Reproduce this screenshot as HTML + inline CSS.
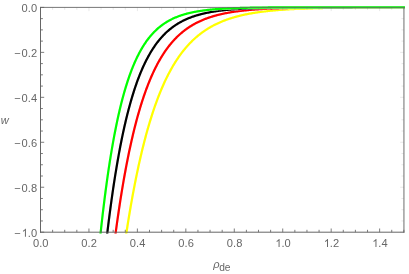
<!DOCTYPE html>
<html><head><meta charset="utf-8"><title>plot</title>
<style>html,body{margin:0;padding:0;background:#fff;overflow:hidden}body{width:409px;height:274px;font-family:"Liberation Sans",sans-serif}</style>
</head><body>
<svg width="409" height="274" viewBox="0 0 409 274" style="display:block;will-change:transform">
<rect width="409" height="274" fill="#fff"/>
<defs><clipPath id="c"><rect x="40.0" y="5.4" width="364.95000000000005" height="228.1"/></clipPath></defs>
<defs>
<path id="p7" d="M121.92 263.92L122.47 259.88L123.02 255.89L123.57 251.97L124.12 248.12L124.67 244.32L125.22 240.58L125.77 236.90L126.32 233.28L126.87 229.72L127.42 226.21L127.97 222.76L128.52 219.36L129.07 216.02L129.62 212.73L130.17 209.49L130.72 206.30L131.27 203.16L131.82 200.08L132.37 197.04L132.92 194.04L133.47 191.10L134.02 188.20L134.57 185.35L135.12 182.54L135.67 179.78L136.22 177.06L136.77 174.38L137.32 171.75L137.87 169.15L138.42 166.60L138.97 164.09L139.52 161.62L140.07 159.18L140.62 156.79L141.17 154.43L141.72 152.11L142.27 149.83L142.82 147.58L143.37 145.37L143.92 143.19L144.47 141.05L145.02 138.94L145.57 136.86L146.12 134.82L146.67 132.81L147.22 130.83L147.77 128.88L148.32 126.96L148.87 125.07L149.42 123.22L149.97 121.39L150.52 119.59L151.07 117.82L151.62 116.08L152.17 114.36L152.72 112.67L153.27 111.01L153.82 109.37L154.37 107.76L154.92 106.18L155.47 104.62L156.02 103.08L156.57 101.57L157.12 100.09L157.67 98.62L158.22 97.18L158.77 95.77L159.32 94.37L159.87 93.00L160.42 91.64L160.97 90.31L161.51 89.00L162.06 87.72L162.61 86.45L163.16 85.20L163.71 83.97L164.26 82.76L164.81 81.57L165.36 80.40L165.91 79.25L166.46 78.11L167.01 76.99L167.56 75.89L168.11 74.81L168.66 73.75L169.21 72.70L169.76 71.67L170.31 70.65L170.86 69.65L171.41 68.67L171.96 67.70L172.51 66.75L173.06 65.81L173.61 64.89L174.16 63.98L174.71 63.08L175.26 62.20L175.81 61.34L176.36 60.48L176.91 59.64L177.46 58.82L178.01 58.01L178.56 57.21L179.11 56.42L179.66 55.64L180.21 54.88L180.76 54.13L181.31 53.39L181.86 52.66L182.41 51.95L182.96 51.24L183.51 50.55L184.06 49.87L184.61 49.19L185.16 48.53L185.71 47.88L186.26 47.24L186.81 46.61L187.36 45.99L187.91 45.38L188.46 44.78L189.01 44.19L189.56 43.61L190.11 43.03L190.66 42.47L191.21 41.91L191.76 41.37L192.31 40.83L192.86 40.30L193.41 39.78L193.96 39.27L194.51 38.76L195.06 38.26L195.61 37.77L196.16 37.29L196.71 36.82L197.26 36.35L197.81 35.90L198.36 35.44L198.91 35.00L199.46 34.56L200.01 34.13L200.56 33.71L201.11 33.29L201.66 32.88L202.21 32.48L202.76 32.08L203.31 31.69L203.85 31.30L204.40 30.92L204.95 30.55L205.50 30.18L206.05 29.82L206.60 29.46L207.15 29.11L207.70 28.77L208.25 28.43L208.80 28.10L209.35 27.77L209.90 27.44L210.45 27.13L211.00 26.81L211.55 26.50L212.10 26.20L212.65 25.90L213.20 25.61L213.75 25.32L214.30 25.03L214.85 24.75L215.40 24.48L215.95 24.21L216.50 23.94L217.05 23.68L217.60 23.42L218.15 23.16L218.70 22.91L219.25 22.66L219.80 22.42L220.35 22.18L220.90 21.95L221.45 21.71L222.00 21.49L222.55 21.26L223.10 21.04L223.65 20.82L224.20 20.61L224.75 20.40L225.30 20.19L225.85 19.99L226.40 19.79L226.95 19.59L227.50 19.40L228.05 19.20L228.60 19.02L229.15 18.83L229.70 18.65L230.25 18.47L230.80 18.29L231.35 18.12L231.90 17.95L232.45 17.78L233.00 17.61L233.55 17.45L234.10 17.29L234.65 17.13L235.20 16.97L235.75 16.82L236.30 16.67L236.85 16.52L237.40 16.37L237.95 16.23L238.50 16.09L239.05 15.95L239.60 15.81L240.15 15.68L240.70 15.54L241.25 15.41L241.80 15.28L242.35 15.16L242.90 15.03L243.45 14.91L244.00 14.79L244.55 14.67L245.10 14.55L245.64 14.44L246.19 14.33L246.74 14.21L247.29 14.10L247.84 14.00L248.39 13.89L248.94 13.79L249.49 13.68L250.04 13.58L250.59 13.48L251.14 13.38L251.69 13.29L252.24 13.19L252.79 13.10L253.34 13.01L253.89 12.91L254.44 12.83L254.99 12.74L255.54 12.65L256.09 12.57L256.64 12.48L257.19 12.40L257.74 12.32L258.29 12.24L258.84 12.16L259.39 12.08L259.94 12.01L260.49 11.93L261.04 11.86L261.59 11.78L262.14 11.71L262.69 11.64L263.24 11.57L263.79 11.51L264.34 11.44L264.89 11.37L265.44 11.31L265.99 11.24L266.54 11.18L267.09 11.12L267.64 11.06L268.19 11.00L268.74 10.94L269.29 10.88L269.84 10.82L270.39 10.77L270.94 10.71L271.49 10.66L272.04 10.60L272.59 10.55L273.14 10.50L273.69 10.45L274.24 10.40L274.79 10.35L275.34 10.30L275.89 10.25L276.44 10.20L276.99 10.16L277.54 10.11L278.09 10.07L278.64 10.02L279.19 9.98L279.74 9.93L280.29 9.89L280.84 9.85L281.39 9.81L281.94 9.77L282.49 9.73L283.04 9.69L283.59 9.65L284.14 9.61L284.69 9.58L285.24 9.54L285.79 9.50L286.34 9.47L286.89 9.43L287.44 9.40L287.98 9.36L288.53 9.33L289.08 9.30L289.63 9.27L290.18 9.23L290.73 9.20L291.28 9.17L291.83 9.14L292.38 9.11L292.93 9.08L293.48 9.05L294.03 9.03L294.58 9.00L295.13 8.97L295.68 8.94L296.23 8.92L296.78 8.89L297.33 8.86L297.88 8.84L298.43 8.81L298.98 8.79L299.53 8.76L300.08 8.74L300.63 8.72L301.18 8.69L301.73 8.67L302.28 8.65L302.83 8.63L303.38 8.61L303.93 8.58L304.48 8.56L305.03 8.54L305.58 8.52L306.13 8.50L306.68 8.48L307.23 8.46L307.78 8.44L308.33 8.42L308.88 8.41L309.43 8.39L309.98 8.37L310.53 8.35L311.08 8.34L311.63 8.32L312.18 8.30L312.73 8.28L313.28 8.27L313.83 8.25L314.38 8.24L314.93 8.22L315.48 8.21L316.03 8.19L316.58 8.18L317.13 8.16L317.68 8.15L318.23 8.13L318.78 8.12L319.33 8.10L319.88 8.09L320.43 8.08L320.98 8.07L321.53 8.05L322.08 8.04L322.63 8.03L323.18 8.01L323.73 8.00L324.28 7.99L324.83 7.98L325.38 7.97L325.93 7.96L326.48 7.95L327.03 7.93L327.58 7.92L328.13 7.91L328.68 7.90L329.23 7.89L329.78 7.88L330.32 7.87L330.87 7.86L331.42 7.85L331.97 7.84L332.52 7.83L333.07 7.82L333.62 7.82L334.17 7.81L334.72 7.80L335.27 7.79L335.82 7.78L336.37 7.77L336.92 7.76L337.47 7.76L338.02 7.75L338.57 7.74L339.12 7.73L339.67 7.72L340.22 7.72L340.77 7.71L341.32 7.70L341.87 7.70L342.42 7.69L342.97 7.68L343.52 7.67L344.07 7.67L344.62 7.66L345.17 7.66L345.72 7.65L346.27 7.64L346.82 7.64L347.37 7.63L347.92 7.62L348.47 7.62L349.02 7.61L349.57 7.61L350.12 7.60L350.67 7.60L351.22 7.59L351.77 7.58L352.32 7.58L352.87 7.57L353.42 7.57L353.97 7.56L354.52 7.56L355.07 7.55L355.62 7.55L356.17 7.54L356.72 7.54L357.27 7.54L357.82 7.53L358.37 7.53L358.92 7.52L359.47 7.52L360.02 7.51L360.57 7.51L361.12 7.51L361.67 7.50L362.22 7.50L362.77 7.49L363.32 7.49L363.87 7.49L364.42 7.48L364.97 7.48L365.52 7.48L366.07 7.47L366.62 7.47L367.17 7.46L367.72 7.46L368.27 7.46L368.82 7.45L369.37 7.45L369.92 7.45L370.47 7.45L371.02 7.44L371.57 7.44L372.12 7.44L372.66 7.43L373.21 7.43L373.76 7.43L374.31 7.42L374.86 7.42L375.41 7.42L375.96 7.42L376.51 7.41L377.06 7.41L377.61 7.41L378.16 7.41L378.71 7.40L379.26 7.40L379.81 7.40L380.36 7.40L380.91 7.39L381.46 7.39L382.01 7.39L382.56 7.39L383.11 7.39L383.66 7.38L384.21 7.38L384.76 7.38L385.31 7.38L385.86 7.38L386.41 7.37L386.96 7.37L387.51 7.37L388.06 7.37L388.61 7.37L389.16 7.36L389.71 7.36L390.26 7.36L390.81 7.36L391.36 7.36L391.91 7.35L392.46 7.35L393.01 7.35L393.56 7.35L394.11 7.35L394.66 7.35L395.21 7.35L395.76 7.34L396.31 7.34L396.86 7.34L397.41 7.34L397.96 7.34L398.51 7.34L399.06 7.34L399.61 7.33L400.16 7.33L400.71 7.33L401.26 7.33L401.81 7.33L402.36 7.33L402.91 7.33L403.46 7.33L404.01 7.32L404.56 7.32L405.11 7.32L405.66 7.32L406.21 7.32L406.76 7.32"/>
<path id="p8" d="M112.03 261.56L112.58 256.98L113.13 252.49L113.68 248.07L114.23 243.74L114.78 239.48L115.33 235.30L115.88 231.20L116.43 227.17L116.98 223.21L117.53 219.33L118.08 215.51L118.63 211.76L119.17 208.08L119.72 204.47L120.27 200.92L120.82 197.43L121.37 194.01L121.92 190.65L122.47 187.35L123.02 184.11L123.57 180.92L124.12 177.80L124.67 174.73L125.22 171.72L125.77 168.76L126.32 165.85L126.87 163.00L127.42 160.19L127.97 157.44L128.52 154.74L129.07 152.08L129.62 149.48L130.17 146.92L130.72 144.40L131.27 141.94L131.82 139.51L132.37 137.13L132.92 134.79L133.47 132.50L134.02 130.25L134.57 128.03L135.12 125.86L135.67 123.72L136.22 121.63L136.77 119.57L137.32 117.55L137.87 115.56L138.42 113.61L138.97 111.70L139.52 109.82L140.07 107.97L140.62 106.16L141.17 104.38L141.72 102.63L142.27 100.92L142.82 99.23L143.37 97.58L143.92 95.95L144.47 94.35L145.02 92.79L145.57 91.25L146.12 89.74L146.67 88.25L147.22 86.79L147.77 85.36L148.32 83.96L148.87 82.58L149.42 81.22L149.97 79.89L150.52 78.58L151.07 77.30L151.62 76.04L152.17 74.80L152.72 73.58L153.27 72.39L153.82 71.22L154.37 70.07L154.92 68.94L155.47 67.83L156.02 66.74L156.57 65.67L157.12 64.61L157.67 63.58L158.22 62.57L158.77 61.57L159.32 60.60L159.87 59.64L160.42 58.69L160.97 57.77L161.51 56.86L162.06 55.96L162.61 55.09L163.16 54.23L163.71 53.38L164.26 52.55L164.81 51.74L165.36 50.94L165.91 50.15L166.46 49.38L167.01 48.62L167.56 47.88L168.11 47.14L168.66 46.43L169.21 45.72L169.76 45.03L170.31 44.35L170.86 43.68L171.41 43.03L171.96 42.38L172.51 41.75L173.06 41.13L173.61 40.52L174.16 39.92L174.71 39.33L175.26 38.75L175.81 38.19L176.36 37.63L176.91 37.08L177.46 36.55L178.01 36.02L178.56 35.50L179.11 34.99L179.66 34.49L180.21 34.00L180.76 33.52L181.31 33.05L181.86 32.59L182.41 32.13L182.96 31.68L183.51 31.24L184.06 30.81L184.61 30.39L185.16 29.97L185.71 29.56L186.26 29.16L186.81 28.77L187.36 28.38L187.91 28.00L188.46 27.62L189.01 27.26L189.56 26.90L190.11 26.54L190.66 26.20L191.21 25.86L191.76 25.52L192.31 25.19L192.86 24.87L193.41 24.55L193.96 24.24L194.51 23.94L195.06 23.64L195.61 23.34L196.16 23.05L196.71 22.77L197.26 22.49L197.81 22.21L198.36 21.94L198.91 21.68L199.46 21.42L200.01 21.16L200.56 20.91L201.11 20.67L201.66 20.43L202.21 20.19L202.76 19.96L203.31 19.73L203.85 19.50L204.40 19.28L204.95 19.07L205.50 18.85L206.05 18.65L206.60 18.44L207.15 18.24L207.70 18.04L208.25 17.85L208.80 17.66L209.35 17.47L209.90 17.28L210.45 17.10L211.00 16.93L211.55 16.75L212.10 16.58L212.65 16.41L213.20 16.25L213.75 16.09L214.30 15.93L214.85 15.77L215.40 15.62L215.95 15.47L216.50 15.32L217.05 15.17L217.60 15.03L218.15 14.89L218.70 14.75L219.25 14.62L219.80 14.49L220.35 14.36L220.90 14.23L221.45 14.10L222.00 13.98L222.55 13.86L223.10 13.74L223.65 13.62L224.20 13.51L224.75 13.40L225.30 13.29L225.85 13.18L226.40 13.07L226.95 12.97L227.50 12.86L228.05 12.76L228.60 12.66L229.15 12.56L229.70 12.47L230.25 12.38L230.80 12.28L231.35 12.19L231.90 12.10L232.45 12.02L233.00 11.93L233.55 11.85L234.10 11.76L234.65 11.68L235.20 11.60L235.75 11.52L236.30 11.45L236.85 11.37L237.40 11.30L237.95 11.22L238.50 11.15L239.05 11.08L239.60 11.01L240.15 10.95L240.70 10.88L241.25 10.81L241.80 10.75L242.35 10.69L242.90 10.63L243.45 10.56L244.00 10.50L244.55 10.45L245.10 10.39L245.64 10.33L246.19 10.28L246.74 10.22L247.29 10.17L247.84 10.12L248.39 10.06L248.94 10.01L249.49 9.96L250.04 9.92L250.59 9.87L251.14 9.82L251.69 9.77L252.24 9.73L252.79 9.68L253.34 9.64L253.89 9.60L254.44 9.56L254.99 9.51L255.54 9.47L256.09 9.43L256.64 9.39L257.19 9.35L257.74 9.32L258.29 9.28L258.84 9.24L259.39 9.21L259.94 9.17L260.49 9.14L261.04 9.10L261.59 9.07L262.14 9.04L262.69 9.01L263.24 8.97L263.79 8.94L264.34 8.91L264.89 8.88L265.44 8.85L265.99 8.82L266.54 8.80L267.09 8.77L267.64 8.74L268.19 8.71L268.74 8.69L269.29 8.66L269.84 8.64L270.39 8.61L270.94 8.59L271.49 8.56L272.04 8.54L272.59 8.52L273.14 8.49L273.69 8.47L274.24 8.45L274.79 8.43L275.34 8.41L275.89 8.39L276.44 8.36L276.99 8.34L277.54 8.33L278.09 8.31L278.64 8.29L279.19 8.27L279.74 8.25L280.29 8.23L280.84 8.21L281.39 8.20L281.94 8.18L282.49 8.16L283.04 8.15L283.59 8.13L284.14 8.11L284.69 8.10L285.24 8.08L285.79 8.07L286.34 8.05L286.89 8.04L287.44 8.03L287.98 8.01L288.53 8.00L289.08 7.98L289.63 7.97L290.18 7.96L290.73 7.95L291.28 7.93L291.83 7.92L292.38 7.91L292.93 7.90L293.48 7.88L294.03 7.87L294.58 7.86L295.13 7.85L295.68 7.84L296.23 7.83L296.78 7.82L297.33 7.81L297.88 7.80L298.43 7.79L298.98 7.78L299.53 7.77L300.08 7.76L300.63 7.75L301.18 7.74L301.73 7.73L302.28 7.72L302.83 7.72L303.38 7.71L303.93 7.70L304.48 7.69L305.03 7.68L305.58 7.68L306.13 7.67L306.68 7.66L307.23 7.65L307.78 7.65L308.33 7.64L308.88 7.63L309.43 7.62L309.98 7.62L310.53 7.61L311.08 7.61L311.63 7.60L312.18 7.59L312.73 7.59L313.28 7.58L313.83 7.57L314.38 7.57L314.93 7.56L315.48 7.56L316.03 7.55L316.58 7.55L317.13 7.54L317.68 7.54L318.23 7.53L318.78 7.53L319.33 7.52L319.88 7.52L320.43 7.51L320.98 7.51L321.53 7.50L322.08 7.50L322.63 7.49L323.18 7.49L323.73 7.48L324.28 7.48L324.83 7.48L325.38 7.47L325.93 7.47L326.48 7.46L327.03 7.46L327.58 7.46L328.13 7.45L328.68 7.45L329.23 7.45L329.78 7.44L330.32 7.44L330.87 7.43L331.42 7.43L331.97 7.43L332.52 7.42L333.07 7.42L333.62 7.42L334.17 7.42L334.72 7.41L335.27 7.41L335.82 7.41L336.37 7.40L336.92 7.40L337.47 7.40L338.02 7.40L338.57 7.39L339.12 7.39L339.67 7.39L340.22 7.39L340.77 7.38L341.32 7.38L341.87 7.38L342.42 7.38L342.97 7.37L343.52 7.37L344.07 7.37L344.62 7.37L345.17 7.37L345.72 7.36L346.27 7.36L346.82 7.36L347.37 7.36L347.92 7.36L348.47 7.35L349.02 7.35L349.57 7.35L350.12 7.35L350.67 7.35L351.22 7.34L351.77 7.34L352.32 7.34L352.87 7.34L353.42 7.34L353.97 7.34L354.52 7.33L355.07 7.33L355.62 7.33L356.17 7.33L356.72 7.33L357.27 7.33L357.82 7.33L358.37 7.32L358.92 7.32L359.47 7.32L360.02 7.32L360.57 7.32L361.12 7.32L361.67 7.32L362.22 7.32L362.77 7.31L363.32 7.31L363.87 7.31L364.42 7.31L364.97 7.31L365.52 7.31L366.07 7.31L366.62 7.31L367.17 7.31L367.72 7.30L368.27 7.30L368.82 7.30L369.37 7.30L369.92 7.30L370.47 7.30L371.02 7.30L371.57 7.30L372.12 7.30L372.66 7.30L373.21 7.30L373.76 7.29L374.31 7.29L374.86 7.29L375.41 7.29L375.96 7.29L376.51 7.29L377.06 7.29L377.61 7.29L378.16 7.29L378.71 7.29L379.26 7.29L379.81 7.29L380.36 7.29L380.91 7.29L381.46 7.28L382.01 7.28L382.56 7.28L383.11 7.28L383.66 7.28L384.21 7.28L384.76 7.28L385.31 7.28L385.86 7.28L386.41 7.28L386.96 7.28L387.51 7.28L388.06 7.28L388.61 7.28L389.16 7.28L389.71 7.28L390.26 7.28L390.81 7.28L391.36 7.28L391.91 7.27L392.46 7.27L393.01 7.27L393.56 7.27L394.11 7.27L394.66 7.27L395.21 7.27L395.76 7.27L396.31 7.27L396.86 7.27L397.41 7.27L397.96 7.27L398.51 7.27L399.06 7.27L399.61 7.27L400.16 7.27L400.71 7.27L401.26 7.27L401.81 7.27L402.36 7.27L402.91 7.27L403.46 7.27L404.01 7.27L404.56 7.27L405.11 7.27L405.66 7.27L406.21 7.27L406.76 7.27"/>
<path id="p9" d="M103.78 264.41L104.33 259.21L104.88 254.12L105.43 249.13L105.98 244.23L106.53 239.44L107.08 234.75L107.63 230.15L108.18 225.64L108.73 221.22L109.28 216.89L109.83 212.66L110.38 208.50L110.93 204.43L111.48 200.44L112.03 196.54L112.58 192.71L113.13 188.96L113.68 185.28L114.23 181.68L114.78 178.16L115.33 174.70L115.88 171.31L116.43 168.00L116.98 164.75L117.53 161.56L118.08 158.44L118.63 155.38L119.17 152.39L119.72 149.45L120.27 146.58L120.82 143.76L121.37 141.00L121.92 138.29L122.47 135.64L123.02 133.05L123.57 130.50L124.12 128.01L124.67 125.57L125.22 123.18L125.77 120.83L126.32 118.53L126.87 116.28L127.42 114.08L127.97 111.92L128.52 109.80L129.07 107.73L129.62 105.70L130.17 103.70L130.72 101.75L131.27 99.84L131.82 97.97L132.37 96.14L132.92 94.34L133.47 92.58L134.02 90.85L134.57 89.16L135.12 87.50L135.67 85.88L136.22 84.29L136.77 82.73L137.32 81.21L137.87 79.71L138.42 78.25L138.97 76.81L139.52 75.40L140.07 74.03L140.62 72.68L141.17 71.35L141.72 70.06L142.27 68.79L142.82 67.54L143.37 66.32L143.92 65.13L144.47 63.96L145.02 62.81L145.57 61.69L146.12 60.59L146.67 59.51L147.22 58.45L147.77 57.41L148.32 56.40L148.87 55.41L149.42 54.43L149.97 53.48L150.52 52.54L151.07 51.63L151.62 50.73L152.17 49.85L152.72 48.99L153.27 48.15L153.82 47.32L154.37 46.51L154.92 45.71L155.47 44.94L156.02 44.17L156.57 43.43L157.12 42.70L157.67 41.98L158.22 41.28L158.77 40.59L159.32 39.91L159.87 39.25L160.42 38.61L160.97 37.97L161.51 37.35L162.06 36.74L162.61 36.15L163.16 35.56L163.71 34.99L164.26 34.43L164.81 33.88L165.36 33.34L165.91 32.81L166.46 32.30L167.01 31.79L167.56 31.29L168.11 30.81L168.66 30.33L169.21 29.86L169.76 29.41L170.31 28.96L170.86 28.52L171.41 28.09L171.96 27.67L172.51 27.25L173.06 26.85L173.61 26.45L174.16 26.07L174.71 25.68L175.26 25.31L175.81 24.95L176.36 24.59L176.91 24.24L177.46 23.89L178.01 23.56L178.56 23.23L179.11 22.91L179.66 22.59L180.21 22.28L180.76 21.97L181.31 21.68L181.86 21.39L182.41 21.10L182.96 20.82L183.51 20.54L184.06 20.28L184.61 20.01L185.16 19.75L185.71 19.50L186.26 19.25L186.81 19.01L187.36 18.77L187.91 18.54L188.46 18.31L189.01 18.09L189.56 17.87L190.11 17.65L190.66 17.44L191.21 17.24L191.76 17.04L192.31 16.84L192.86 16.64L193.41 16.45L193.96 16.27L194.51 16.09L195.06 15.91L195.61 15.73L196.16 15.56L196.71 15.39L197.26 15.23L197.81 15.07L198.36 14.91L198.91 14.75L199.46 14.60L200.01 14.45L200.56 14.31L201.11 14.16L201.66 14.02L202.21 13.89L202.76 13.75L203.31 13.62L203.85 13.49L204.40 13.37L204.95 13.24L205.50 13.12L206.05 13.00L206.60 12.89L207.15 12.77L207.70 12.66L208.25 12.55L208.80 12.44L209.35 12.34L209.90 12.24L210.45 12.14L211.00 12.04L211.55 11.94L212.10 11.85L212.65 11.75L213.20 11.66L213.75 11.57L214.30 11.48L214.85 11.40L215.40 11.32L215.95 11.23L216.50 11.15L217.05 11.07L217.60 11.00L218.15 10.92L218.70 10.85L219.25 10.77L219.80 10.70L220.35 10.63L220.90 10.56L221.45 10.50L222.00 10.43L222.55 10.37L223.10 10.30L223.65 10.24L224.20 10.18L224.75 10.12L225.30 10.06L225.85 10.01L226.40 9.95L226.95 9.90L227.50 9.84L228.05 9.79L228.60 9.74L229.15 9.69L229.70 9.64L230.25 9.59L230.80 9.54L231.35 9.50L231.90 9.45L232.45 9.41L233.00 9.36L233.55 9.32L234.10 9.28L234.65 9.24L235.20 9.20L235.75 9.16L236.30 9.12L236.85 9.08L237.40 9.05L237.95 9.01L238.50 8.97L239.05 8.94L239.60 8.90L240.15 8.87L240.70 8.84L241.25 8.81L241.80 8.77L242.35 8.74L242.90 8.71L243.45 8.68L244.00 8.66L244.55 8.63L245.10 8.60L245.64 8.57L246.19 8.54L246.74 8.52L247.29 8.49L247.84 8.47L248.39 8.44L248.94 8.42L249.49 8.40L250.04 8.37L250.59 8.35L251.14 8.33L251.69 8.31L252.24 8.28L252.79 8.26L253.34 8.24L253.89 8.22L254.44 8.20L254.99 8.18L255.54 8.16L256.09 8.15L256.64 8.13L257.19 8.11L257.74 8.09L258.29 8.08L258.84 8.06L259.39 8.04L259.94 8.03L260.49 8.01L261.04 8.00L261.59 7.98L262.14 7.97L262.69 7.95L263.24 7.94L263.79 7.92L264.34 7.91L264.89 7.90L265.44 7.88L265.99 7.87L266.54 7.86L267.09 7.85L267.64 7.83L268.19 7.82L268.74 7.81L269.29 7.80L269.84 7.79L270.39 7.78L270.94 7.77L271.49 7.76L272.04 7.75L272.59 7.74L273.14 7.73L273.69 7.72L274.24 7.71L274.79 7.70L275.34 7.69L275.89 7.68L276.44 7.67L276.99 7.66L277.54 7.65L278.09 7.65L278.64 7.64L279.19 7.63L279.74 7.62L280.29 7.61L280.84 7.61L281.39 7.60L281.94 7.59L282.49 7.59L283.04 7.58L283.59 7.57L284.14 7.57L284.69 7.56L285.24 7.55L285.79 7.55L286.34 7.54L286.89 7.54L287.44 7.53L287.98 7.52L288.53 7.52L289.08 7.51L289.63 7.51L290.18 7.50L290.73 7.50L291.28 7.49L291.83 7.49L292.38 7.48L292.93 7.48L293.48 7.47L294.03 7.47L294.58 7.46L295.13 7.46L295.68 7.46L296.23 7.45L296.78 7.45L297.33 7.44L297.88 7.44L298.43 7.44L298.98 7.43L299.53 7.43L300.08 7.42L300.63 7.42L301.18 7.42L301.73 7.41L302.28 7.41L302.83 7.41L303.38 7.40L303.93 7.40L304.48 7.40L305.03 7.40L305.58 7.39L306.13 7.39L306.68 7.39L307.23 7.38L307.78 7.38L308.33 7.38L308.88 7.38L309.43 7.37L309.98 7.37L310.53 7.37L311.08 7.37L311.63 7.36L312.18 7.36L312.73 7.36L313.28 7.36L313.83 7.35L314.38 7.35L314.93 7.35L315.48 7.35L316.03 7.35L316.58 7.34L317.13 7.34L317.68 7.34L318.23 7.34L318.78 7.34L319.33 7.34L319.88 7.33L320.43 7.33L320.98 7.33L321.53 7.33L322.08 7.33L322.63 7.33L323.18 7.32L323.73 7.32L324.28 7.32L324.83 7.32L325.38 7.32L325.93 7.32L326.48 7.32L327.03 7.31L327.58 7.31L328.13 7.31L328.68 7.31L329.23 7.31L329.78 7.31L330.32 7.31L330.87 7.31L331.42 7.30L331.97 7.30L332.52 7.30L333.07 7.30L333.62 7.30L334.17 7.30L334.72 7.30L335.27 7.30L335.82 7.30L336.37 7.30L336.92 7.29L337.47 7.29L338.02 7.29L338.57 7.29L339.12 7.29L339.67 7.29L340.22 7.29L340.77 7.29L341.32 7.29L341.87 7.29L342.42 7.29L342.97 7.29L343.52 7.28L344.07 7.28L344.62 7.28L345.17 7.28L345.72 7.28L346.27 7.28L346.82 7.28L347.37 7.28L347.92 7.28L348.47 7.28L349.02 7.28L349.57 7.28L350.12 7.28L350.67 7.28L351.22 7.28L351.77 7.28L352.32 7.28L352.87 7.27L353.42 7.27L353.97 7.27L354.52 7.27L355.07 7.27L355.62 7.27L356.17 7.27L356.72 7.27L357.27 7.27L357.82 7.27L358.37 7.27L358.92 7.27L359.47 7.27L360.02 7.27L360.57 7.27L361.12 7.27L361.67 7.27L362.22 7.27L362.77 7.27L363.32 7.27L363.87 7.27L364.42 7.27L364.97 7.27L365.52 7.27L366.07 7.27L366.62 7.26L367.17 7.26L367.72 7.26L368.27 7.26L368.82 7.26L369.37 7.26L369.92 7.26L370.47 7.26L371.02 7.26L371.57 7.26L372.12 7.26L372.66 7.26L373.21 7.26L373.76 7.26L374.31 7.26L374.86 7.26L375.41 7.26L375.96 7.26L376.51 7.26L377.06 7.26L377.61 7.26L378.16 7.26L378.71 7.26L379.26 7.26L379.81 7.26L380.36 7.26L380.91 7.26L381.46 7.26L382.01 7.26L382.56 7.26L383.11 7.26L383.66 7.26L384.21 7.26L384.76 7.26L385.31 7.26L385.86 7.26L386.41 7.26L386.96 7.26L387.51 7.26L388.06 7.26L388.61 7.26L389.16 7.26L389.71 7.26L390.26 7.26L390.81 7.26L391.36 7.26L391.91 7.26L392.46 7.26L393.01 7.26L393.56 7.26L394.11 7.26L394.66 7.26L395.21 7.26L395.76 7.25L396.31 7.25L396.86 7.25L397.41 7.25L397.96 7.25L398.51 7.25L399.06 7.25L399.61 7.25L400.16 7.25L400.71 7.25L401.26 7.25L401.81 7.25L402.36 7.25L402.91 7.25L403.46 7.25L404.01 7.25L404.56 7.25L405.11 7.25L405.66 7.25L406.21 7.25L406.76 7.25"/>
<path id="p10" d="M97.73 261.47L98.28 255.76L98.83 250.18L99.38 244.73L99.93 239.40L100.48 234.19L101.03 229.10L101.58 224.12L102.13 219.25L102.68 214.49L103.23 209.84L103.78 205.29L104.33 200.85L104.88 196.50L105.43 192.26L105.98 188.10L106.53 184.04L107.08 180.08L107.63 176.20L108.18 172.41L108.73 168.70L109.28 165.07L109.83 161.53L110.38 158.07L110.93 154.68L111.48 151.38L112.03 148.14L112.58 144.98L113.13 141.89L113.68 138.87L114.23 135.91L114.78 133.02L115.33 130.20L115.88 127.44L116.43 124.74L116.98 122.11L117.53 119.53L118.08 117.01L118.63 114.55L119.17 112.14L119.72 109.78L120.27 107.48L120.82 105.23L121.37 103.03L121.92 100.88L122.47 98.78L123.02 96.73L123.57 94.72L124.12 92.76L124.67 90.84L125.22 88.96L125.77 87.13L126.32 85.33L126.87 83.58L127.42 81.87L127.97 80.19L128.52 78.56L129.07 76.96L129.62 75.39L130.17 73.86L130.72 72.37L131.27 70.91L131.82 69.48L132.37 68.08L132.92 66.71L133.47 65.38L134.02 64.08L134.57 62.80L135.12 61.55L135.67 60.33L136.22 59.14L136.77 57.98L137.32 56.84L137.87 55.73L138.42 54.64L138.97 53.58L139.52 52.54L140.07 51.52L140.62 50.53L141.17 49.55L141.72 48.60L142.27 47.68L142.82 46.77L143.37 45.88L143.92 45.02L144.47 44.17L145.02 43.34L145.57 42.53L146.12 41.74L146.67 40.96L147.22 40.21L147.77 39.47L148.32 38.74L148.87 38.04L149.42 37.35L149.97 36.67L150.52 36.01L151.07 35.36L151.62 34.73L152.17 34.12L152.72 33.51L153.27 32.92L153.82 32.35L154.37 31.78L154.92 31.23L155.47 30.70L156.02 30.17L156.57 29.66L157.12 29.15L157.67 28.66L158.22 28.18L158.77 27.71L159.32 27.25L159.87 26.80L160.42 26.36L160.97 25.93L161.51 25.51L162.06 25.11L162.61 24.70L163.16 24.31L163.71 23.93L164.26 23.56L164.81 23.19L165.36 22.83L165.91 22.48L166.46 22.14L167.01 21.81L167.56 21.48L168.11 21.16L168.66 20.85L169.21 20.54L169.76 20.24L170.31 19.95L170.86 19.67L171.41 19.39L171.96 19.12L172.51 18.85L173.06 18.59L173.61 18.33L174.16 18.09L174.71 17.84L175.26 17.61L175.81 17.37L176.36 17.15L176.91 16.92L177.46 16.71L178.01 16.49L178.56 16.29L179.11 16.08L179.66 15.89L180.21 15.69L180.76 15.50L181.31 15.32L181.86 15.14L182.41 14.96L182.96 14.79L183.51 14.62L184.06 14.45L184.61 14.29L185.16 14.13L185.71 13.98L186.26 13.83L186.81 13.68L187.36 13.53L187.91 13.39L188.46 13.26L189.01 13.12L189.56 12.99L190.11 12.86L190.66 12.73L191.21 12.61L191.76 12.49L192.31 12.37L192.86 12.26L193.41 12.15L193.96 12.04L194.51 11.93L195.06 11.82L195.61 11.72L196.16 11.62L196.71 11.52L197.26 11.43L197.81 11.33L198.36 11.24L198.91 11.15L199.46 11.06L200.01 10.98L200.56 10.89L201.11 10.81L201.66 10.73L202.21 10.65L202.76 10.58L203.31 10.50L203.85 10.43L204.40 10.36L204.95 10.29L205.50 10.22L206.05 10.15L206.60 10.09L207.15 10.03L207.70 9.96L208.25 9.90L208.80 9.84L209.35 9.78L209.90 9.73L210.45 9.67L211.00 9.62L211.55 9.56L212.10 9.51L212.65 9.46L213.20 9.41L213.75 9.36L214.30 9.32L214.85 9.27L215.40 9.22L215.95 9.18L216.50 9.14L217.05 9.09L217.60 9.05L218.15 9.01L218.70 8.97L219.25 8.93L219.80 8.90L220.35 8.86L220.90 8.82L221.45 8.79L222.00 8.75L222.55 8.72L223.10 8.69L223.65 8.65L224.20 8.62L224.75 8.59L225.30 8.56L225.85 8.53L226.40 8.50L226.95 8.48L227.50 8.45L228.05 8.42L228.60 8.40L229.15 8.37L229.70 8.34L230.25 8.32L230.80 8.30L231.35 8.27L231.90 8.25L232.45 8.23L233.00 8.21L233.55 8.18L234.10 8.16L234.65 8.14L235.20 8.12L235.75 8.10L236.30 8.08L236.85 8.06L237.40 8.05L237.95 8.03L238.50 8.01L239.05 7.99L239.60 7.98L240.15 7.96L240.70 7.95L241.25 7.93L241.80 7.91L242.35 7.90L242.90 7.88L243.45 7.87L244.00 7.86L244.55 7.84L245.10 7.83L245.64 7.82L246.19 7.80L246.74 7.79L247.29 7.78L247.84 7.77L248.39 7.76L248.94 7.74L249.49 7.73L250.04 7.72L250.59 7.71L251.14 7.70L251.69 7.69L252.24 7.68L252.79 7.67L253.34 7.66L253.89 7.65L254.44 7.64L254.99 7.64L255.54 7.63L256.09 7.62L256.64 7.61L257.19 7.60L257.74 7.59L258.29 7.59L258.84 7.58L259.39 7.57L259.94 7.56L260.49 7.56L261.04 7.55L261.59 7.54L262.14 7.54L262.69 7.53L263.24 7.52L263.79 7.52L264.34 7.51L264.89 7.51L265.44 7.50L265.99 7.49L266.54 7.49L267.09 7.48L267.64 7.48L268.19 7.47L268.74 7.47L269.29 7.46L269.84 7.46L270.39 7.45L270.94 7.45L271.49 7.44L272.04 7.44L272.59 7.44L273.14 7.43L273.69 7.43L274.24 7.42L274.79 7.42L275.34 7.42L275.89 7.41L276.44 7.41L276.99 7.41L277.54 7.40L278.09 7.40L278.64 7.40L279.19 7.39L279.74 7.39L280.29 7.39L280.84 7.38L281.39 7.38L281.94 7.38L282.49 7.37L283.04 7.37L283.59 7.37L284.14 7.37L284.69 7.36L285.24 7.36L285.79 7.36L286.34 7.36L286.89 7.35L287.44 7.35L287.98 7.35L288.53 7.35L289.08 7.34L289.63 7.34L290.18 7.34L290.73 7.34L291.28 7.34L291.83 7.33L292.38 7.33L292.93 7.33L293.48 7.33L294.03 7.33L294.58 7.33L295.13 7.32L295.68 7.32L296.23 7.32L296.78 7.32L297.33 7.32L297.88 7.32L298.43 7.31L298.98 7.31L299.53 7.31L300.08 7.31L300.63 7.31L301.18 7.31L301.73 7.31L302.28 7.30L302.83 7.30L303.38 7.30L303.93 7.30L304.48 7.30L305.03 7.30L305.58 7.30L306.13 7.30L306.68 7.30L307.23 7.29L307.78 7.29L308.33 7.29L308.88 7.29L309.43 7.29L309.98 7.29L310.53 7.29L311.08 7.29L311.63 7.29L312.18 7.29L312.73 7.29L313.28 7.28L313.83 7.28L314.38 7.28L314.93 7.28L315.48 7.28L316.03 7.28L316.58 7.28L317.13 7.28L317.68 7.28L318.23 7.28L318.78 7.28L319.33 7.28L319.88 7.28L320.43 7.28L320.98 7.28L321.53 7.27L322.08 7.27L322.63 7.27L323.18 7.27L323.73 7.27L324.28 7.27L324.83 7.27L325.38 7.27L325.93 7.27L326.48 7.27L327.03 7.27L327.58 7.27L328.13 7.27L328.68 7.27L329.23 7.27L329.78 7.27L330.32 7.27L330.87 7.27L331.42 7.27L331.97 7.27L332.52 7.27L333.07 7.27L333.62 7.26L334.17 7.26L334.72 7.26L335.27 7.26L335.82 7.26L336.37 7.26L336.92 7.26L337.47 7.26L338.02 7.26L338.57 7.26L339.12 7.26L339.67 7.26L340.22 7.26L340.77 7.26L341.32 7.26L341.87 7.26L342.42 7.26L342.97 7.26L343.52 7.26L344.07 7.26L344.62 7.26L345.17 7.26L345.72 7.26L346.27 7.26L346.82 7.26L347.37 7.26L347.92 7.26L348.47 7.26L349.02 7.26L349.57 7.26L350.12 7.26L350.67 7.26L351.22 7.26L351.77 7.26L352.32 7.26L352.87 7.26L353.42 7.26L353.97 7.26L354.52 7.26L355.07 7.26L355.62 7.26L356.17 7.26L356.72 7.26L357.27 7.26L357.82 7.26L358.37 7.26L358.92 7.26L359.47 7.26L360.02 7.26L360.57 7.25L361.12 7.25L361.67 7.25L362.22 7.25L362.77 7.25L363.32 7.25L363.87 7.25L364.42 7.25L364.97 7.25L365.52 7.25L366.07 7.25L366.62 7.25L367.17 7.25L367.72 7.25L368.27 7.25L368.82 7.25L369.37 7.25L369.92 7.25L370.47 7.25L371.02 7.25L371.57 7.25L372.12 7.25L372.66 7.25L373.21 7.25L373.76 7.25L374.31 7.25L374.86 7.25L375.41 7.25L375.96 7.25L376.51 7.25L377.06 7.25L377.61 7.25L378.16 7.25L378.71 7.25L379.26 7.25L379.81 7.25L380.36 7.25L380.91 7.25L381.46 7.25L382.01 7.25L382.56 7.25L383.11 7.25L383.66 7.25L384.21 7.25L384.76 7.25L385.31 7.25L385.86 7.25L386.41 7.25L386.96 7.25L387.51 7.25L388.06 7.25L388.61 7.25L389.16 7.25L389.71 7.25L390.26 7.25L390.81 7.25L391.36 7.25L391.91 7.25L392.46 7.25L393.01 7.25L393.56 7.25L394.11 7.25L394.66 7.25L395.21 7.25L395.76 7.25L396.31 7.25L396.86 7.25L397.41 7.25L397.96 7.25L398.51 7.25L399.06 7.25L399.61 7.25L400.16 7.25L400.71 7.25L401.26 7.25L401.81 7.25L402.36 7.25L402.91 7.25L403.46 7.25L404.01 7.25L404.56 7.25L405.11 7.25L405.66 7.25L406.21 7.25L406.76 7.25"/>
<mask id="m7" maskUnits="userSpaceOnUse" x="0" y="0" width="409" height="274"><rect width="409" height="274" fill="#fff"/><use href="#p8" stroke="#000" stroke-width="2.7" fill="none"/><use href="#p9" stroke="#000" stroke-width="2.7" fill="none"/><use href="#p10" stroke="#000" stroke-width="2.7" fill="none"/></mask>
<mask id="m8" maskUnits="userSpaceOnUse" x="0" y="0" width="409" height="274"><rect width="409" height="274" fill="#fff"/><use href="#p9" stroke="#000" stroke-width="2.7" fill="none"/><use href="#p10" stroke="#000" stroke-width="2.7" fill="none"/></mask>
<mask id="m9" maskUnits="userSpaceOnUse" x="0" y="0" width="409" height="274"><rect width="409" height="274" fill="#fff"/><use href="#p10" stroke="#000" stroke-width="2.7" fill="none"/></mask>
</defs>
<g clip-path="url(#c)">
<g mask="url(#m7)"><use href="#p7" stroke="#ffff00" stroke-width="2.2" fill="none" stroke-linejoin="round"/></g>
<g mask="url(#m8)"><use href="#p8" stroke="#ff0000" stroke-width="2.2" fill="none" stroke-linejoin="round"/></g>
<g mask="url(#m9)"><use href="#p9" stroke="#000000" stroke-width="2.2" fill="none" stroke-linejoin="round"/></g>
<g><use href="#p10" stroke="#00ff00" stroke-width="2.2" fill="none" stroke-linejoin="round"/></g>
</g>
<g fill="none" stroke="#666666" stroke-width="1">
<path d="M40.5 232.7V6.95"/>
<path d="M40.0 232.2H404.35"/>
<path d="M40.0 7.4H404.35" stroke-width="0.9"/>
<path d="M403.95000000000005 232.7V6.9" stroke-width="0.95"/>
</g>
<path d="M40.50 232.2v-3.7M52.61 232.2v-2.4M64.72 232.2v-2.4M76.84 232.2v-2.4M88.95 232.2v-3.7M101.06 232.2v-2.4M113.17 232.2v-2.4M125.28 232.2v-2.4M137.39 232.2v-3.7M149.50 232.2v-2.4M161.62 232.2v-2.4M173.73 232.2v-2.4M185.84 232.2v-3.7M197.95 232.2v-2.4M210.06 232.2v-2.4M222.18 232.2v-2.4M234.29 232.2v-3.7M246.40 232.2v-2.4M258.51 232.2v-2.4M270.62 232.2v-2.4M282.73 232.2v-3.7M294.85 232.2v-2.4M306.96 232.2v-2.4M319.07 232.2v-2.4M331.18 232.2v-3.7M343.29 232.2v-2.4M355.40 232.2v-2.4M367.52 232.2v-2.4M379.63 232.2v-3.7M391.74 232.2v-2.4M403.85 232.2v-2.4" stroke="#666666" stroke-width="0.85" fill="none"/>
<path d="M40.5 7.40h3.7M40.5 18.64h2.4M40.5 29.88h2.4M40.5 41.12h2.4M40.5 52.36h3.7M40.5 63.60h2.4M40.5 74.84h2.4M40.5 86.08h2.4M40.5 97.32h3.7M40.5 108.56h2.4M40.5 119.80h2.4M40.5 131.04h2.4M40.5 142.28h3.7M40.5 153.52h2.4M40.5 164.76h2.4M40.5 176.00h2.4M40.5 187.24h3.7M40.5 198.48h2.4M40.5 209.72h2.4M40.5 220.96h2.4M40.5 232.20h3.7" stroke="#666666" stroke-width="0.85" fill="none"/>
<path d="M40.50 7.4v3.7M52.61 7.4v2.4M64.72 7.4v2.4M76.84 7.4v2.4M88.95 7.4v3.7M101.06 7.4v2.4M113.17 7.4v2.4M125.28 7.4v2.4M137.39 7.4v3.7M149.50 7.4v2.4M161.62 7.4v2.4M173.73 7.4v2.4M185.84 7.4v3.7M197.95 7.4v2.4M210.06 7.4v2.4M222.18 7.4v2.4M234.29 7.4v3.7M246.40 7.4v2.4M258.51 7.4v2.4M270.62 7.4v2.4M282.73 7.4v3.7M294.85 7.4v2.4M306.96 7.4v2.4M319.07 7.4v2.4M331.18 7.4v3.7M343.29 7.4v2.4M355.40 7.4v2.4M367.52 7.4v2.4M379.63 7.4v3.7M391.74 7.4v2.4M403.85 7.4v2.4" stroke="#666666" stroke-width="0.7" fill="none" opacity="0.22"/>
<path d="M403.85 7.40h-3.7M403.85 18.64h-2.4M403.85 29.88h-2.4M403.85 41.12h-2.4M403.85 52.36h-3.7M403.85 63.60h-2.4M403.85 74.84h-2.4M403.85 86.08h-2.4M403.85 97.32h-3.7M403.85 108.56h-2.4M403.85 119.80h-2.4M403.85 131.04h-2.4M403.85 142.28h-3.7M403.85 153.52h-2.4M403.85 164.76h-2.4M403.85 176.00h-2.4M403.85 187.24h-3.7M403.85 198.48h-2.4M403.85 209.72h-2.4M403.85 220.96h-2.4M403.85 232.20h-3.7" stroke="#666666" stroke-width="0.7" fill="none" opacity="0.22"/>
<g clip-path="url(#c)" opacity="0.15">
<g mask="url(#m7)"><use href="#p7" stroke="#ffff00" stroke-width="2.2" fill="none" stroke-linejoin="round"/></g>
<g mask="url(#m8)"><use href="#p8" stroke="#ff0000" stroke-width="2.2" fill="none" stroke-linejoin="round"/></g>
<g mask="url(#m9)"><use href="#p9" stroke="#000000" stroke-width="2.2" fill="none" stroke-linejoin="round"/></g>
<g><use href="#p10" stroke="#00ff00" stroke-width="2.2" fill="none" stroke-linejoin="round"/></g>
</g>
<g font-family="'Liberation Sans', sans-serif" font-size="11.1" fill="#666666">
<text x="21.47" y="11.95">0</text><text x="27.74" y="11.95">.</text><text x="30.93" y="11.95">0</text>
<text x="14.34" y="56.91">−</text><text x="21.47" y="56.91">0</text><text x="27.74" y="56.91">.</text><text x="30.93" y="56.91">2</text>
<text x="14.34" y="101.87">−</text><text x="21.47" y="101.87">0</text><text x="27.74" y="101.87">.</text><text x="30.93" y="101.87">4</text>
<text x="14.34" y="146.83">−</text><text x="21.47" y="146.83">0</text><text x="27.74" y="146.83">.</text><text x="30.93" y="146.83">6</text>
<text x="14.34" y="191.79">−</text><text x="21.47" y="191.79">0</text><text x="27.74" y="191.79">.</text><text x="30.93" y="191.79">8</text>
<text x="14.34" y="236.75">−</text><path d="M763 0H583V1147Q518 1085 412.5 1023Q307 961 223 930V1104Q374 1175 487 1276Q600 1377 647 1472H763Z" transform="translate(21.77 236.75) scale(0.005420 -0.005420)"/><text x="27.74" y="236.75">.</text><text x="30.93" y="236.75">0</text>
<text x="32.88" y="247.00">0</text><text x="39.16" y="247.00">.</text><text x="42.34" y="247.00">0</text>
<text x="81.33" y="247.00">0</text><text x="87.60" y="247.00">.</text><text x="90.79" y="247.00">2</text>
<text x="129.78" y="247.00">0</text><text x="136.05" y="247.00">.</text><text x="139.24" y="247.00">4</text>
<text x="178.22" y="247.00">0</text><text x="184.50" y="247.00">.</text><text x="187.68" y="247.00">6</text>
<text x="226.67" y="247.00">0</text><text x="232.94" y="247.00">.</text><text x="236.13" y="247.00">8</text>
<path d="M763 0H583V1147Q518 1085 412.5 1023Q307 961 223 930V1104Q374 1175 487 1276Q600 1377 647 1472H763Z" transform="translate(275.42 247.00) scale(0.005420 -0.005420)"/><text x="281.39" y="247.00">.</text><text x="284.58" y="247.00">0</text>
<path d="M763 0H583V1147Q518 1085 412.5 1023Q307 961 223 930V1104Q374 1175 487 1276Q600 1377 647 1472H763Z" transform="translate(323.86 247.00) scale(0.005420 -0.005420)"/><text x="329.84" y="247.00">.</text><text x="333.02" y="247.00">2</text>
<path d="M763 0H583V1147Q518 1085 412.5 1023Q307 961 223 930V1104Q374 1175 487 1276Q600 1377 647 1472H763Z" transform="translate(372.31 247.00) scale(0.005420 -0.005420)"/><text x="378.28" y="247.00">.</text><text x="381.47" y="247.00">4</text>
<text x="0.8" y="124.1" font-style="italic">w</text>
<text x="213.3" y="267.6"><tspan font-style="italic">ρ</tspan><tspan font-size="10.2" dy="2.9" dx="-0.5">de</tspan></text>
</g>
</svg>
</body></html>
